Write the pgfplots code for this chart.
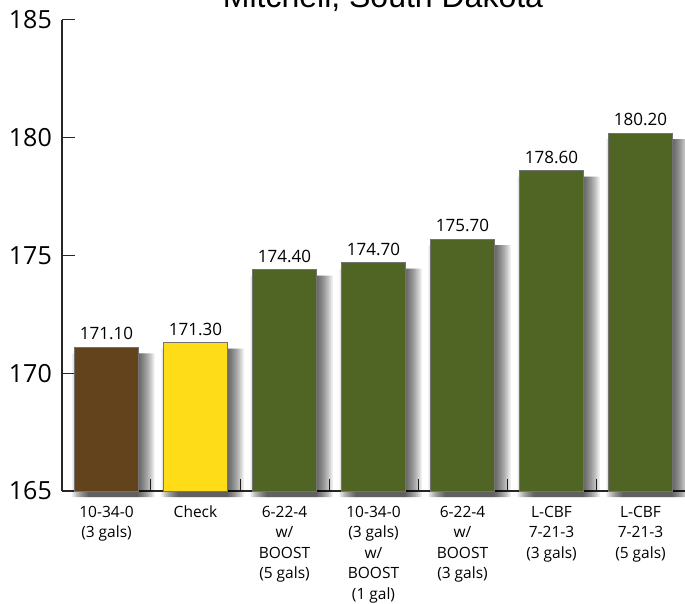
\documentclass[border=0pt]{standalone}
\usepackage{pgfplots}
\usepackage{pgfplotstable}
\pgfplotsset{compat=1.18}
\usepackage{fontspec}
\setmainfont{Open Sans}
\newfontfamily\titlefont{Liberation Sans}

\definecolor{barbrown}{HTML}{62431C}
\definecolor{baryellow}{HTML}{FEDC17}
\definecolor{bargreen}{HTML}{506423}

\pgfplotstableread{
x y
0 171.10
1 171.30
2 174.40
3 174.70
4 175.70
5 178.60
6 180.20
}\yields

\pgfplotsset{
  realbar/.style={draw=black!55, line width=0.5pt,
    nodes near coords={\pgfmathprintnumber[fixed,fixed zerofill,precision=2]{\pgfplotspointmeta}},
    every node near coord/.append style={font=\fontsize{17}{17}\selectfont, black, inner sep=0pt, yshift=7pt}},
  shadowbar/.style={draw=none, fill=black, fill opacity=0.1, xshift=7pt, yshift=-6pt},
}

\begin{document}
\begin{tikzpicture}
\begin{axis}[
name=ax,
scale only axis,
width=623pt,
height=471pt,
ybar,
bar width=64pt,
bar shift=0pt,
xmin=-0.5, xmax=6.5,
% bars start at 165: values are shifted, labels keep the raw numbers
y filter/.expression={y-165},
point meta=rawy,
ymin=0, ymax=20,
axis x line*=bottom,
axis y line*=left,
axis line style={line width=1.2pt, black!85},
tick align=inside,
tick style={line width=1pt, black!85},
major tick length=13pt,
minor tick length=12pt,
major x tick style={draw=none},
ytick={0,5,...,20},
yticklabels={165,170,175,180,185},
xtick={0,...,6},
minor xtick={0.5,1.5,2.5,3.5,4.5,5.5},
xticklabels={
  {10-34-0\\(3 gals)},
  {Check},
  {6-22-4\\w/\\BOOST\\(5 gals)},
  {10-34-0\\(3 gals)\\w/\\BOOST\\(1 gal)},
  {6-22-4\\w/\\BOOST\\(3 gals)},
  {L-CBF\\7-21-3\\(3 gals)},
  {L-CBF\\7-21-3\\(5 gals)}},
xticklabel style={align=center, font=\fontsize{15.5}{20.5}\selectfont, anchor=north, inner sep=0pt, yshift=-15pt},
yticklabel style={font=\fontsize{25}{25}\selectfont, anchor=east, inner sep=0pt, xshift=-10pt},
/pgf/number format/assume math mode=true,
clip=false,
]
% soft shadow: stacked translucent bars
\pgfplotsinvokeforeach{50,54,58,62,66,70,74,78,82}{
  \addplot[shadowbar, bar width=#1pt] table {\yields};
}
\addplot[realbar, fill=barbrown, restrict x to domain=0:0] table {\yields};
\addplot[realbar, fill=baryellow, restrict x to domain=1:1] table {\yields};
\addplot[realbar, fill=bargreen, restrict x to domain=2:6] table {\yields};
\end{axis}
\node[font=\titlefont\fontsize{32}{32}\selectfont, anchor=base] at ([xshift=321pt, yshift=12pt]ax.north west) {Mitchell, South Dakota};
\pgfresetboundingbox
\useasboundingbox ([xshift=-62pt,yshift=-112pt]ax.south west) rectangle ([yshift=20pt]ax.north east);
\end{tikzpicture}
\end{document}
